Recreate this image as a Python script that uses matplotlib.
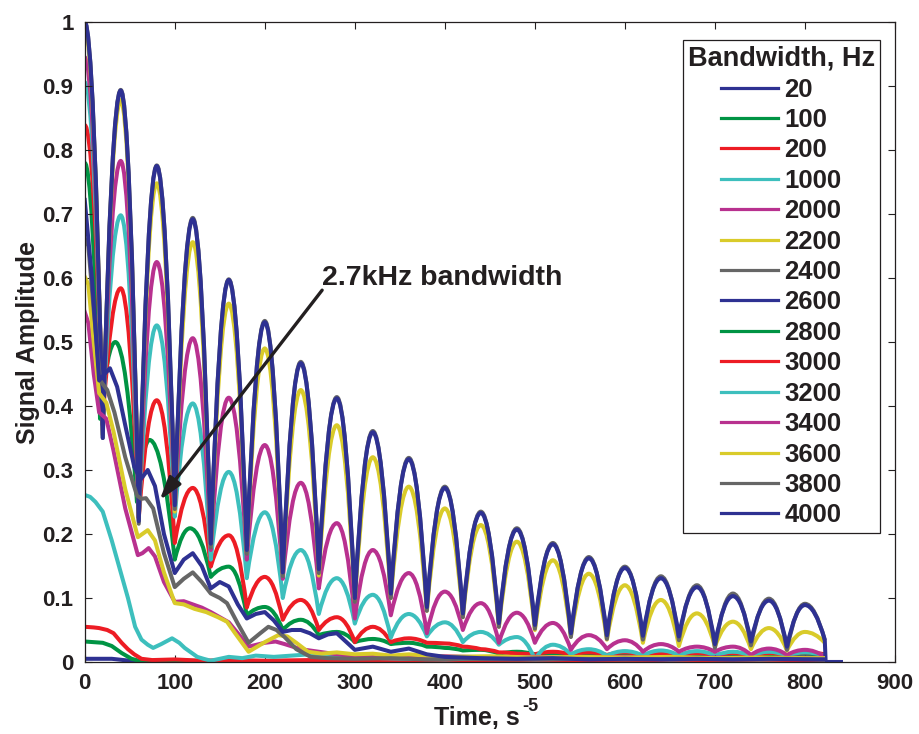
import matplotlib
matplotlib.use("Agg")
import matplotlib.pyplot as plt
from matplotlib.lines import Line2D
from matplotlib.path import Path
from matplotlib.patches import PathPatch

plt.rcParams['font.family'] = ['Liberation Sans', 'DejaVu Sans']
plt.rcParams['font.weight'] = 'bold'

# ---------------- data ----------------
bandwidths = [20, 100, 200, 1000, 2000, 2200, 2400, 2600, 2800, 3000,
              3200, 3400, 3600, 3800, 4000]
colors = ['#2e3192', '#009444', '#ed1c24', '#3dbfbd', '#b8318f',
          '#d9cb2a', '#666666', '#2e3192', '#009444', '#ed1c24',
          '#3dbfbd', '#b8318f', '#d9cb2a', '#666666', '#2e3192']

# oscillating curves: peak times, trough times, end time
peak_t = [0, 40, 80, 120, 160, 200, 240, 280, 320, 360, 400, 440, 480, 520,
          560, 600, 640, 680, 720, 760, 800]
trough_t = [20, 60, 100, 140, 180, 220, 260, 300, 340, 380, 420, 460, 500,
            540, 580, 620, 660, 700, 740, 780]
end_t = 822

peaks_4000 = [1.0, 0.893, 0.775, 0.692, 0.597, 0.531, 0.467, 0.412, 0.359, 0.317,
              0.272, 0.233, 0.207, 0.184, 0.162, 0.147, 0.131, 0.117, 0.103, 0.096,
              0.089]
troughs_4000 = [0.35, 0.22, 0.245, 0.185, 0.175, 0.14, 0.145, 0.10, 0.107, 0.086,
                0.076, 0.061, 0.058, 0.045, 0.042, 0.041, 0.04, 0.028, 0.032, 0.024]
end_4000 = 0.035
tail_t_4000 = [823, 840]
tail_y_4000 = [0.0, 0.0]

peaks_3800 = [1.0, 0.894, 0.776, 0.694, 0.598, 0.533, 0.469, 0.414, 0.361, 0.319,
              0.274, 0.235, 0.209, 0.186, 0.164, 0.149, 0.134, 0.12, 0.107, 0.099,
              0.091]
troughs_3800 = [0.35, 0.216, 0.239, 0.179, 0.169, 0.134, 0.139, 0.094, 0.10, 0.08,
                0.07, 0.055, 0.052, 0.039, 0.036, 0.035, 0.034, 0.022, 0.026, 0.019]
end_3800 = 0.034

peaks_3600 = [0.99, 0.878, 0.748, 0.656, 0.56, 0.49, 0.425, 0.37, 0.32, 0.274,
              0.24, 0.214, 0.188, 0.159, 0.138, 0.12, 0.097, 0.076, 0.063, 0.053,
              0.047]
troughs_3600 = [0.355, 0.222, 0.235, 0.18, 0.17, 0.135, 0.135, 0.095, 0.10, 0.08,
                0.07, 0.055, 0.05, 0.04, 0.035, 0.03, 0.025, 0.024, 0.02, 0.018]
end_3600 = 0.03

peaks_3400 = [0.945, 0.783, 0.625, 0.506, 0.413, 0.339, 0.28, 0.217, 0.175, 0.139,
              0.11, 0.092, 0.077, 0.061, 0.042, 0.034, 0.028, 0.024, 0.024, 0.021,
              0.019]
troughs_3400 = [0.37, 0.225, 0.237, 0.175, 0.16, 0.13, 0.115, 0.068, 0.073, 0.045,
                0.05, 0.03, 0.03, 0.019, 0.02, 0.016, 0.016, 0.016, 0.011, 0.011]
end_3400 = 0.008

peaks_3200 = [0.906, 0.698, 0.526, 0.404, 0.297, 0.234, 0.175, 0.131, 0.105, 0.075,
              0.062, 0.047, 0.039, 0.027, 0.02, 0.017, 0.018, 0.017, 0.016, 0.016,
              0.015]
troughs_3200 = [0.37, 0.225, 0.227, 0.16, 0.131, 0.10, 0.075, 0.06, 0.038, 0.04,
                0.031, 0.027, 0.004, 0.012, 0.01, 0.01, 0.01, 0.01, 0.01, 0.01]
end_3200 = 0.01

peaks_3000 = [0.839, 0.584, 0.409, 0.272, 0.198, 0.133, 0.097, 0.07, 0.055, 0.037,
              0.029, 0.02, 0.013, 0.016, 0.015, 0.015, 0.014, 0.014, 0.014, 0.014,
              0.015]
troughs_3000 = [0.38, 0.225, 0.186, 0.149, 0.085, 0.066, 0.05, 0.031, 0.031, 0.03,
                0.024, 0.015, 0.012, 0.012, 0.011, 0.01, 0.01, 0.01, 0.009, 0.01]
end_3000 = 0.012

# 2800 Hz: its own extremes (peaks drift earlier in the first periods)
t_2800 = [0, 17, 34, 58, 72, 100, 117, 140, 160, 180, 200, 220, 240, 260, 280,
          300, 320, 340, 360, 380, 400, 420, 440, 460, 480, 500, 520, 540, 560,
          580, 600, 620, 640, 660, 680, 700, 720, 740, 760, 780, 800, 822]
y_2800 = [0.78, 0.38, 0.5, 0.25, 0.347, 0.16, 0.209, 0.133, 0.149, 0.073, 0.086,
          0.05, 0.066, 0.042, 0.047, 0.031, 0.036, 0.028, 0.03, 0.024, 0.022,
          0.018, 0.019, 0.013, 0.016, 0.012, 0.014, 0.01, 0.013, 0.01, 0.012,
          0.009, 0.012, 0.01, 0.012, 0.009, 0.011, 0.009, 0.011, 0.008, 0.011,
          0.009]

# slowly decaying curves (plain polylines)
t_2600 = [0, 8, 16, 22, 28, 36, 45, 55, 62, 70, 78, 88, 100, 110, 120, 130, 140,
          150, 160, 170, 180, 190, 200, 210, 220, 230, 240, 250, 260, 270, 280,
          290, 300, 320, 340, 360, 380, 400, 440, 480, 520, 560, 600, 640, 680,
          720, 760, 800, 820]
y_2600 = [0.722, 0.6, 0.44, 0.45, 0.459, 0.43, 0.37, 0.305, 0.285, 0.3, 0.275,
          0.2, 0.139, 0.16, 0.17, 0.15, 0.115, 0.125, 0.118, 0.09, 0.068, 0.075,
          0.078, 0.065, 0.047, 0.05, 0.05, 0.045, 0.037, 0.043, 0.045, 0.032,
          0.019, 0.024, 0.016, 0.021, 0.012, 0.008, 0.006, 0.005, 0.006, 0.004,
          0.005, 0.004, 0.005, 0.004, 0.005, 0.004, 0.004]

t_2400 = [0, 4, 10, 17, 25, 33, 45, 58, 63, 68, 76, 88, 100, 110, 120, 130, 140,
          150, 158, 170, 182, 195, 204, 213, 222, 235, 251, 270, 300, 340, 380,
          420, 480, 540, 600, 660, 720, 780, 820]
y_2400 = [0.662, 0.65, 0.55, 0.44, 0.425, 0.39, 0.32, 0.26, 0.255, 0.256, 0.24,
          0.17, 0.117, 0.13, 0.14, 0.125, 0.107, 0.1, 0.092, 0.06, 0.03, 0.045,
          0.055, 0.05, 0.039, 0.02, 0.008, 0.006, 0.005, 0.006, 0.004, 0.005,
          0.004, 0.005, 0.004, 0.005, 0.004, 0.005, 0.004]

t_2200 = [0, 4, 10, 16, 24, 32, 45, 59, 64, 70, 78, 88, 100, 110, 122, 135, 148,
          158, 167, 182, 200, 215, 225, 235, 248, 263, 280, 300, 320, 340, 360,
          400, 450, 500, 550, 600, 650, 700, 750, 800, 820]
y_2200 = [0.602, 0.59, 0.5, 0.42, 0.405, 0.36, 0.27, 0.195, 0.2, 0.206, 0.19,
          0.14, 0.092, 0.09, 0.083, 0.078, 0.07, 0.063, 0.045, 0.016, 0.031,
          0.042, 0.04, 0.03, 0.016, 0.013, 0.015, 0.012, 0.013, 0.01, 0.012,
          0.008, 0.009, 0.007, 0.008, 0.007, 0.008, 0.006, 0.007, 0.006, 0.006]

t_2000 = [0, 4, 10, 16, 24, 32, 45, 59, 64, 71, 78, 88, 100, 110, 122, 130, 140,
          150, 160, 170, 182, 200, 212, 222, 240, 260, 280, 300, 330, 360, 400,
          450, 500, 550, 600, 650, 700, 750, 800, 820]
y_2000 = [0.547, 0.53, 0.45, 0.39, 0.38, 0.33, 0.24, 0.167, 0.17, 0.178, 0.165,
          0.125, 0.094, 0.095, 0.089, 0.085, 0.078, 0.07, 0.062, 0.045, 0.024,
          0.03, 0.032, 0.028, 0.02, 0.016, 0.012, 0.009, 0.01, 0.008, 0.009,
          0.007, 0.008, 0.006, 0.008, 0.006, 0.007, 0.006, 0.007, 0.006]

t_1000 = [0, 6, 12, 20, 30, 40, 48, 56, 63, 70, 76, 85, 97, 105, 111, 118, 125,
          132, 140, 150, 160, 175, 190, 210, 230, 250, 270, 290, 310, 330, 360,
          400, 450, 500, 550, 600, 650, 700, 750, 800, 820]
y_1000 = [0.261, 0.258, 0.25, 0.235, 0.19, 0.14, 0.1, 0.055, 0.035, 0.027,
          0.022, 0.028, 0.037, 0.03, 0.022, 0.015, 0.008, 0.005, 0.002, 0.005,
          0.008, 0.006, 0.01, 0.008, 0.01, 0.012, 0.009, 0.011, 0.008, 0.006,
          0.005, 0.004, 0.006, 0.004, 0.005, 0.006, 0.004, 0.005, 0.004, 0.005,
          0.004]

t_200 = [0, 10, 16, 25, 32, 41, 48, 55, 63, 75, 100, 130, 160, 200, 250, 300,
         400, 500, 600, 700, 820]
y_200 = [0.055, 0.054, 0.053, 0.05, 0.045, 0.03, 0.02, 0.012, 0.005, 0.003,
         0.004, 0.002, 0.003, 0.002, 0.003, 0.002, 0.002, 0.002, 0.002, 0.002,
         0.002]

t_100 = [0, 10, 20, 30, 41, 52, 60, 100, 200, 300, 400, 500, 600, 700, 820]
y_100 = [0.032, 0.031, 0.03, 0.025, 0.014, 0.005, 0.002, 0.002, 0.001, 0.002,
         0.001, 0.001, 0.001, 0.001, 0.001]

t_20 = [0, 30, 50, 70, 200, 400, 600, 823, 840]
y_20 = [0.005, 0.005, 0.002, 0.001, 0.001, 0.0, 0.0, 0.0, 0.0]

x_ticks = [0, 100, 200, 300, 400, 500, 600, 700, 800, 900]
y_ticks = [0, 0.1, 0.2, 0.3, 0.4, 0.5, 0.6, 0.7, 0.8, 0.9, 1.0]
y_tick_labels = ['0', '0.1', '0.2', '0.3', '0.4', '0.5', '0.6', '0.7', '0.8', '0.9', '1']


def extremes(peaks, troughs, end_val):
    """Order the read peaks / troughs along time."""
    ts, ys = [], []
    for k, p in enumerate(peaks):
        ts.append(peak_t[k]); ys.append(p)
        if k < len(troughs):
            ts.append(trough_t[k]); ys.append(troughs[k])
    ts.append(end_t); ys.append(end_val)
    return ts, ys


def arch_path(ts, ys, tail_t=(), tail_y=()):
    """Rounded arches between consecutive extremes (quadratic Bezier,
    horizontal tangent at each maximum, cusp at each minimum)."""
    verts = [(ts[0], ys[0])]
    codes = [Path.MOVETO]
    for i in range(len(ts) - 1):
        verts += [((ts[i] + ts[i + 1]) / 2, max(ys[i], ys[i + 1])),
                  (ts[i + 1], ys[i + 1])]
        codes += [Path.CURVE3, Path.CURVE3]
    for t, y in zip(tail_t, tail_y):
        verts.append((t, y)); codes.append(Path.LINETO)
    return Path(verts, codes)


LW = 2.9
fig = plt.figure(figsize=(9.2, 7.34), dpi=100)
ax = fig.add_axes([0.0921, 0.0981, 0.8807, 0.8719])

poly_series = [(t_20, y_20), (t_100, y_100), (t_200, y_200), (t_1000, y_1000),
               (t_2000, y_2000), (t_2200, y_2200), (t_2400, y_2400),
               (t_2600, y_2600)]
for (t, y), c in zip(poly_series, colors[:8]):
    ax.plot(t, y, color=c, lw=LW, solid_joinstyle='round')

arch_series = [
    (t_2800, y_2800, (), ()),
    extremes(peaks_3000, troughs_3000, end_3000) + ((), ()),
    extremes(peaks_3200, troughs_3200, end_3200) + ((), ()),
    extremes(peaks_3400, troughs_3400, end_3400) + ((), ()),
    extremes(peaks_3600, troughs_3600, end_3600) + ((), ()),
    extremes(peaks_3800, troughs_3800, end_3800) + ((), ()),
    extremes(peaks_4000, troughs_4000, end_4000) + (tail_t_4000, tail_y_4000),
]
for (t, y, tt, ty), c in zip(arch_series, colors[8:]):
    ax.add_patch(PathPatch(arch_path(t, y, tt, ty), fill=False, edgecolor=c,
                           lw=LW, joinstyle='round', capstyle='butt'))

handles = [Line2D([], [], color=c, lw=2.3) for c in colors]

ax.set_xlim(0, 900)
ax.set_ylim(0, 1)
ax.set_xticks(x_ticks)
ax.set_xticklabels([str(v) for v in x_ticks])
ax.set_yticks(y_ticks)
ax.set_yticklabels(y_tick_labels)
ax.tick_params(direction='in', top=True, right=True, length=5, width=0.8,
               labelsize=16, pad=8, colors='#231f20')
for s in ax.spines.values():
    s.set_linewidth(0.9)
    s.set_color('#231f20')

ax.set_ylabel('Signal Amplitude', fontsize=18, fontweight='bold',
              color='#231f20', labelpad=2)
ax.set_xlabel('Time, s', fontsize=18, fontweight='bold', color='#231f20')
ax.xaxis.set_label_coords(0.484, -0.068)
ax.annotate('-5', xy=(1.0, 1.0), xycoords=ax.xaxis.label,
            xytext=(1.5, -1), textcoords='offset points',
            ha='left', va='center', fontsize=13, fontweight='bold',
            color='#231f20')

leg = ax.legend(handles=handles, labels=[str(b) for b in bandwidths],
                title='Bandwidth, Hz', loc='upper right',
                bbox_to_anchor=(0.9815, 0.972), borderaxespad=0,
                prop={'weight': 'bold', 'size': 18.5},
                title_fontproperties={'weight': 'bold', 'size': 19.5},
                fancybox=False, framealpha=1, edgecolor='#231f20',
                labelspacing=0.25, handlelength=2.2, handletextpad=0.25,
                borderpad=0.2)
leg.get_frame().set_linewidth(0.9)
for txt in leg.get_texts():
    txt.set_color('#231f20')
leg.get_title().set_color('#231f20')

ax.annotate('', xy=(83.3, 0.253), xytext=(263.7, 0.581),
            arrowprops=dict(arrowstyle='-|>,head_length=0.7,head_width=0.22',
                            color='#231f20', lw=2.4, mutation_scale=20,
                            shrinkA=0, shrinkB=0))
ax.text(263, 0.6, '2.7kHz bandwidth', fontsize=20.5, fontweight='bold',
        color='#231f20', ha='left', va='center')

fig.savefig('out.png', dpi=100)
